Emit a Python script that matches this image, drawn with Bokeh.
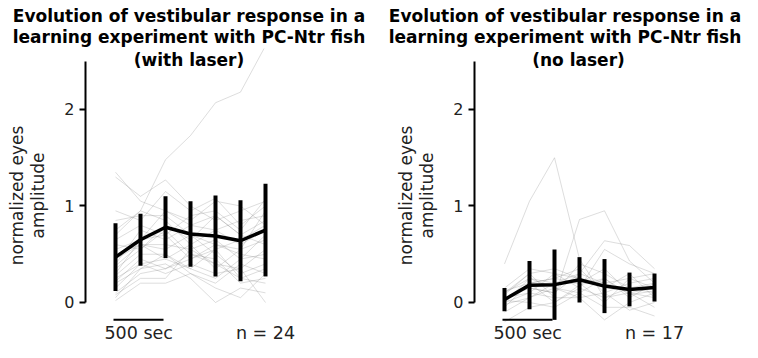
from bokeh.plotting import figure
from bokeh.models import Range1d, FixedTicker, Label
from bokeh.layouts import row, column
from bokeh.embed import file_html
from bokeh.resources import INLINE

# ---------------- data ----------------
times = [0, 250, 500, 750, 1000, 1250, 1500]  # seconds
y_ticks = [0, 1, 2]

title_common = ["Evolution of vestibular response in a",
                "learning experiment with PC-Ntr fish"]
title_laser = "(with laser)"
title_nolaser = "(no laser)"
n_laser = "n = 24"
n_nolaser = "n = 17"
scale_label = "500 sec"
scale_len = 500

laser_mean = [0.47, 0.65, 0.78, 0.71, 0.69, 0.64, 0.75]
laser_sd = [0.35, 0.27, 0.32, 0.34, 0.42, 0.42, 0.48]
nolaser_mean = [0.03, 0.18, 0.185, 0.235, 0.17, 0.135, 0.155]
nolaser_sd = [0.12, 0.25, 0.365, 0.235, 0.28, 0.175, 0.145]

laser_fish = [
    [0.70, 0.95, 1.48, 1.73, 2.07, 2.18, 2.66],
    [1.35, 1.05, 0.95, 0.80, 0.90, 0.70, 0.85],
    [1.30, 1.10, 1.27, 1.00, 0.85, 0.95, 1.05],
    [0.95, 0.85, 1.15, 0.95, 1.08, 0.80, 1.00],
    [0.85, 0.90, 0.90, 0.70, 0.60, 0.55, 0.95],
    [0.75, 0.95, 0.85, 0.60, 0.75, 0.85, 0.90],
    [0.65, 0.80, 0.70, 0.90, 0.95, 0.75, 1.07],
    [0.60, 0.55, 0.75, 0.50, 0.40, 0.35, 0.55],
    [0.55, 0.65, 0.95, 0.85, 1.05, 1.00, 0.80],
    [0.50, 0.60, 0.60, 0.55, 0.65, 0.45, 0.70],
    [0.45, 0.60, 0.55, 0.70, 0.50, 0.30, 0.40],
    [0.40, 0.75, 0.65, 0.80, 0.75, 0.60, 0.75],
    [0.38, 0.60, 0.45, 0.35, 0.25, 0.45, 0.50],
    [0.35, 0.55, 0.80, 0.65, 0.90, 0.70, 0.60],
    [0.30, 0.65, 0.70, 0.45, 0.55, 0.25, 0.35],
    [0.28, 0.50, 0.50, 0.30, 0.20, 0.40, 0.30],
    [0.25, 0.40, 0.45, 0.60, 0.35, 0.55, 0.65],
    [0.22, 0.45, 0.35, 0.50, 0.45, 0.20, 0.25],
    [0.20, 0.35, 0.40, 0.25, 0.00, 0.15, 0.10],
    [0.15, 0.40, 0.30, 0.40, 0.30, 0.35, 0.00],
    [0.10, 0.30, 0.35, 0.45, 0.60, 0.50, 0.45],
    [0.08, 0.25, 0.25, 0.55, 0.40, 0.25, 0.20],
    [0.05, 0.35, 0.50, 0.35, 0.55, 0.65, 0.80],
    [0.02, 0.20, 0.20, 0.30, 0.15, 0.05, 0.30],
]

nolaser_fish = [
    [0.40, 1.05, 1.50, 0.45, 0.05, 0.10, 0.05],
    [0.05, 0.10, 0.05, 0.86, 0.95, 0.43, 0.20],
    [0.00, 0.25, 0.20, 0.30, 0.64, 0.59, 0.35],
    [0.15, 0.35, 0.30, 0.15, 0.55, 0.40, 0.30],
    [0.10, 0.30, 0.35, 0.25, 0.20, 0.10, 0.15],
    [-0.05, 0.20, 0.25, 0.35, 0.10, 0.20, 0.25],
    [0.05, 0.15, 0.10, 0.40, 0.30, 0.15, 0.10],
    [-0.10, 0.05, 0.20, 0.20, 0.00, 0.25, 0.30],
    [0.10, 0.25, 0.15, 0.10, 0.25, 0.05, 0.20],
    [0.00, 0.10, 0.30, 0.25, 0.15, 0.30, 0.05],
    [0.08, 0.30, 0.05, 0.05, -0.18, 0.00, 0.10],
    [-0.20, -0.05, 0.00, 0.15, 0.05, 0.15, 0.20],
    [0.12, 0.20, 0.25, 0.20, 0.35, 0.10, -0.05],
    [0.02, 0.00, -0.05, 0.10, -0.05, -0.05, -0.14],
    [0.05, 0.15, 0.10, 0.30, 0.20, 0.25, 0.15],
    [-0.02, 0.05, 0.15, 0.05, 0.10, -0.08, 0.00],
    [0.03, 0.20, 0.00, 0.18, 0.25, 0.08, 0.12],
]

FONT = "DejaVu Sans"
TXT = "#222222"
TITLE_H = 48
PLOT_H = 294


def bold_label(x, y, text):
    return Label(x=x, y=y, text=text, text_align="center", text_baseline="middle",
                 text_font=FONT, text_font_size="17px", text_font_style="bold",
                 text_color="black")


# title strip (first two title lines of both panels)
tfig = figure(width=742, height=TITLE_H, output_backend="svg", toolbar_location=None,
              x_range=Range1d(0, 742), y_range=Range1d(TITLE_H, 0),
              min_border=0)
tfig.axis.visible = False
tfig.grid.visible = False
tfig.outline_line_color = None
for cx in (188.5, 564.5):
    tfig.add_layout(bold_label(cx, 15, title_common[0]))
    tfig.add_layout(bold_label(cx, 36, title_common[1]))


def make_panel(title_last, title_x, fish, mean, sd, n_text, width, border_left, x_end):
    p = figure(width=width, height=PLOT_H, output_backend="svg", toolbar_location=None,
               x_range=Range1d(-300, x_end), y_range=Range1d(-0.4145, 2.632),
               min_border_left=border_left, min_border_right=0,
               min_border_top=0, min_border_bottom=0)
    p.outline_line_color = None
    p.grid.visible = False
    p.xaxis.visible = False

    ax = p.yaxis[0]
    ax.ticker = FixedTicker(ticks=y_ticks)
    ax.bounds = (0, 2.5)
    ax.axis_line_width = 2
    ax.axis_line_color = "black"
    ax.major_tick_line_width = 2
    ax.major_tick_line_color = "black"
    ax.major_tick_out = 6
    ax.major_tick_in = 0
    ax.minor_tick_line_color = None
    ax.major_label_standoff = 5
    ax.major_label_text_font = FONT
    ax.major_label_text_font_size = "16px"
    ax.major_label_text_color = TXT
    ax.axis_label = "normalized eyes\namplitude"
    ax.axis_label_text_font = FONT
    ax.axis_label_text_font_size = "17px"
    ax.axis_label_text_font_style = "normal"
    ax.axis_label_text_line_height = 1.05
    ax.axis_label_text_color = TXT
    ax.axis_label_standoff = 13

    for f in fish:
        p.line(times, f, line_color="gray", line_alpha=0.27, line_width=1)

    lo = [m - s for m, s in zip(mean, sd)]
    hi = [m + s for m, s in zip(mean, sd)]
    p.segment(x0=times, y0=lo, x1=times, y1=hi, line_color="black",
              line_width=4, line_cap="butt")
    p.line(times, mean, line_color="black", line_width=3.5, line_join="round")

    # scale bar
    p.segment(x0=[-20], y0=[-0.18], x1=[-20 + scale_len], y1=[-0.18],
              line_color="black", line_width=2)
    p.add_layout(Label(x=232, y=-0.321, text=scale_label, text_align="center",
                       text_baseline="middle", text_font=FONT,
                       text_font_size="17.5px", text_color=TXT))
    p.add_layout(Label(x=times[-1], y=-0.321, text=n_text, text_align="center",
                       text_baseline="middle", text_font=FONT,
                       text_font_size="17.5px", text_color=TXT))

    p.add_layout(bold_label(title_x, 2.513, title_last))
    return p


p1 = make_panel(title_laser, 735, laser_fish, laser_mean, laser_sd, n_laser,
                371, 85, 2560)
p2 = make_panel(title_nolaser, 740, nolaser_fish, nolaser_mean, nolaser_sd, n_nolaser,
                371, 103, 2380)

layout = column(tfig, row(p1, p2))
open("out.html", "w").write(file_html(layout, INLINE))
